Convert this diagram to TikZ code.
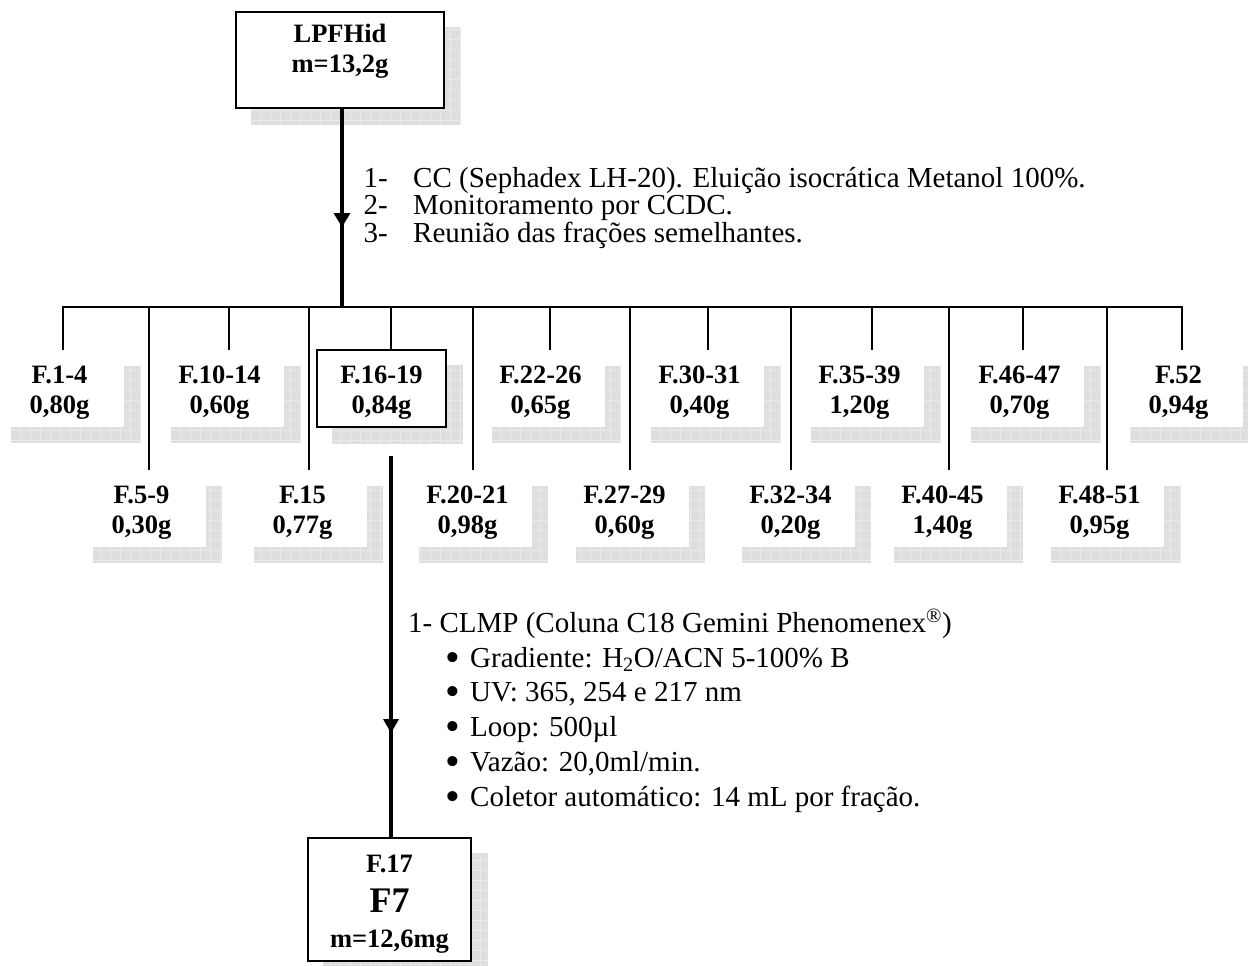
\documentclass[tikz,border=0pt]{standalone}
\usepackage{fontspec}
\setmainfont{Liberation Serif}
\pgfdeclarelayer{bg}
\pgfsetlayers{bg,main}
\definecolor{shc}{RGB}{222,222,222}
\definecolor{shg}{RGB}{234,234,234}
\tikzset{
  frbox/.style={minimum width=129pt, minimum height=77pt, fill=white, inner sep=0pt,
    align=center, font=\fontsize{26.5}{30}\selectfont\bfseries},
  framed/.style={draw, line width=2.5pt},
  conn/.style={line width=2pt},
  stem/.style={line width=4.5pt},
  txt/.style={anchor=base west, inner sep=0pt, font=\fontsize{29}{27.5}\selectfont},
}
\newcommand{\shadowof}[1]{%
  \begin{pgfonlayer}{bg}
    \fill[shc] ([shift={(16,16)}]#1.north west) rectangle ([shift={(16,16)}]#1.south east);
    \draw[shg, line width=1pt, step=10pt] ([shift={(16,16)}]#1.north west) grid ([shift={(16,16)}]#1.south east);
  \end{pgfonlayer}}
\newcommand{\fnode}[5]{\node[frbox,#1] (#2) at (#3) {\rule{0pt}{25pt}#4\\#5};\shadowof{#2}}
\newcommand{\branch}[2]{\draw[conn] ([xshift=#2pt]#1.north) -- ([xshift=#2pt]#1.north |- bus);}
\newcommand{\bigbul}{\makebox[25pt][l]{\smash{\raisebox{-4pt}{\scalebox{1.45}{\textbullet}}}}}
\begin{document}
\begin{tikzpicture}[x=1pt,y=-1pt]
\useasboundingbox (0,0) rectangle (1248,966);
\begin{pgfonlayer}{bg}
  \fill[white] (0,0) rectangle (1248,966);
\end{pgfonlayer}

% top box
\node[frbox, framed, minimum width=208pt, minimum height=96pt] (top) at (340,60)
  {LPFHid\\m=13,2g\rule[-24pt]{0pt}{0pt}};
\shadowof{top}

% fractions, top row
\fnode{}{f14}{59.5,388.5}{F.1-4}{0,80g}
\fnode{}{f1014}{219.5,388.5}{F.10-14}{0,60g}
\fnode{framed}{f1619}{381.5,388.5}{F.16-19}{0,84g}
\fnode{}{f2226}{540.5,388.5}{F.22-26}{0,65g}
\fnode{}{f3031}{699.5,388.5}{F.30-31}{0,40g}
\fnode{}{f3539}{859.5,388.5}{F.35-39}{1,20g}
\fnode{}{f4647}{1019.5,388.5}{F.46-47}{0,70g}
\fnode{}{f52}{1178.5,388.5}{F.52}{0,94g}
% fractions, bottom row
\fnode{}{f59}{141.5,508.5}{F.5-9}{0,30g}
\fnode{}{f15}{302.5,508.5}{F.15}{0,77g}
\fnode{}{f2021}{467.5,508.5}{F.20-21}{0,98g}
\fnode{}{f2729}{624.5,508.5}{F.27-29}{0,60g}
\fnode{}{f3234}{790.5,508.5}{F.32-34}{0,20g}
\fnode{}{f4045}{942.5,508.5}{F.40-45}{1,40g}
\fnode{}{f4851}{1099.5,508.5}{F.48-51}{0,95g}

% final box
\node[frbox, framed, minimum width=163pt, minimum height=123pt,
      font=\fontsize{26.5}{35}\selectfont\bfseries] (f17) at (389.5,899.5)
  {\rule{0pt}{25.9pt}F.17\\[5pt]{\fontsize{36}{35}\selectfont F7}\\m=12,6mg};
\shadowof{f17}

% bus and branches
\coordinate (bus) at (0,307);
\coordinate (s) at (342,307);
\draw[conn, line cap=rect] ([xshift=3.5pt]f14.north |- bus) -- ([xshift=3.5pt]f52.north |- bus);
\branch{f14}{3.5}
\branch{f1014}{9.5}
\branch{f1619}{9.5}
\branch{f2226}{9.5}
\branch{f3031}{8.5}
\branch{f3539}{12.5}
\branch{f4647}{3.5}
\branch{f52}{3.5}
\branch{f59}{7.5}
\branch{f15}{6.5}
\branch{f2021}{5.5}
\branch{f2729}{5.5}
\branch{f3234}{0.5}
\branch{f4045}{6.5}
\branch{f4851}{7.5}

% main stem with arrow
\draw[stem] (top.south -| s) -- (s);
\coordinate (a1) at (342,227);
\fill (a1) -- ++(-8.5,-14) -- ++(17,0) -- cycle;

% second stem with arrow
\draw[stem] ([xshift=9.5pt,yshift=-28pt]f1619.south) -- ([xshift=9.5pt]f1619.south |- f17.north);
\coordinate (a2) at (391,733);
\fill (a2) -- ++(-8,-14) -- ++(16,0) -- cycle;

% first step list
\node[txt] (l1) at (363.5,187) {\makebox[49.5pt][l]{1-}CC (Sephadex LH-20). Eluição isocrática Metanol 100\%.};
\node[txt] (l2) at (363.5,214.5) {\makebox[49.5pt][l]{2-}Monitoramento por CCDC.};
\node[txt] (l3) at (363.5,242) {\makebox[49.5pt][l]{3-}Reunião das frações semelhantes.};

% second step list
\node[txt] (b0) at (408,632) {1- CLMP (Coluna C18 Gemini Phenomenex\textsuperscript{®})};
\node[txt] (b1) at (445,667) {\bigbul Gradiente: H\textsubscript{2}O/ACN 5-100\% B};
\node[txt] (b2) at (445,701.5) {\bigbul UV: 365, 254 e 217 nm};
\node[txt] (b3) at (445,736.5) {\bigbul Loop: 500µl};
\node[txt] (b4) at (445,771) {\bigbul Vazão: 20,0ml/min.};
\node[txt] (b5) at (445,806) {\bigbul Coletor automático: 14 mL por fração.};
\end{tikzpicture}
\end{document}
